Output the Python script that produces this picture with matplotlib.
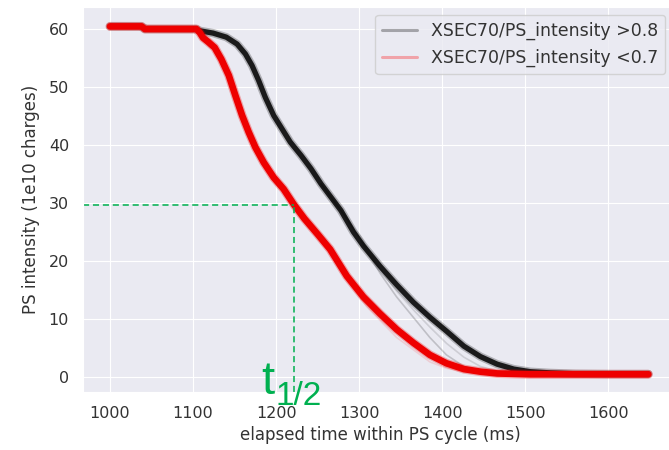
import numpy as np
import matplotlib
matplotlib.use('Agg')
import matplotlib.pyplot as plt
import seaborn as sns
from matplotlib.lines import Line2D

sns.set_style('darkgrid')
plt.rcParams['font.family'] = ['DejaVu Sans']

#### DATOS ####
# Curva principal, grupo XSEC70/PS_intensity > 0.8 (tiempo en ms, intensidad en 1e10 cargas)
t_alto = [1000, 1038, 1042, 1104, 1108, 1124, 1140, 1153, 1163, 1171, 1179, 1187, 1197,
          1207, 1217, 1230, 1242, 1254, 1266, 1278, 1293, 1305, 1325, 1345, 1365, 1385,
          1405, 1426, 1446, 1466, 1486, 1506, 1530, 1560, 1600, 1648]
i_alto = [60.45, 60.45, 60.0, 60.0, 59.7, 59.3, 58.6, 57.4, 55.7, 53.7, 51.1, 48.2, 45.1,
          42.8, 40.5, 38.2, 35.9, 33.3, 31.0, 28.7, 25.0, 22.6, 19.1, 15.9, 12.9, 10.3,
          7.9, 5.3, 3.5, 2.2, 1.35, 0.9, 0.7, 0.55, 0.5, 0.5]

# Curva principal, grupo XSEC70/PS_intensity < 0.7
t_bajo = [1000, 1038, 1042, 1104, 1108, 1112, 1118, 1126, 1134, 1143, 1151, 1159, 1167,
          1175, 1185, 1197, 1209, 1221, 1234, 1250, 1265, 1285, 1305, 1325, 1345, 1365,
          1385, 1405, 1426, 1446, 1466, 1506, 1550, 1600, 1648]
i_bajo = [60.45, 60.45, 60.0, 60.0, 59.4, 58.5, 57.8, 56.8, 54.8, 52.0, 48.5, 45.1, 42.2,
          39.6, 37.0, 34.4, 32.4, 29.8, 27.3, 24.6, 22.0, 17.4, 13.8, 10.9, 8.2, 5.9,
          3.8, 2.35, 1.35, 0.9, 0.6, 0.45, 0.45, 0.45, 0.45]

# Trazas sueltas del grupo > 0.8
t_gris1 = [1254, 1278, 1301, 1325, 1345, 1365, 1385, 1405, 1426, 1446, 1466, 1500]
i_gris1 = [33.3, 28.7, 23.8, 17.9, 13.8, 10.3, 6.8, 3.8, 1.8, 0.9, 0.6, 0.5]
t_gris2 = [1254, 1278, 1301, 1325, 1345, 1365, 1385, 1405, 1426, 1446, 1466, 1486, 1520]
i_gris2 = [33.3, 28.7, 24.3, 18.6, 14.8, 11.6, 8.6, 5.8, 3.4, 1.8, 1.0, 0.7, 0.55]

# Traza suelta del grupo < 0.7
t_rosa = [1265, 1285, 1309, 1345, 1365, 1385, 1405, 1426, 1446, 1480]
i_rosa = [22.0, 17.0, 12.1, 6.8, 4.7, 2.6, 1.5, 0.9, 0.6, 0.45]

# Punto de mitad de intensidad
t_mitad = 1221
i_mitad = 29.6

etiquetas = ['XSEC70/PS_intensity >0.8', 'XSEC70/PS_intensity <0.7']

#### GRAFICO ####
fig = plt.figure(figsize=(6.69, 4.5), dpi=100)
ax = fig.add_axes([83 / 669, 58 / 450, 594 / 669, 385 / 450])

xlim = (967.5, 1682.5)
ylim = (-2.6, 63.8)

estilo = dict(solid_capstyle='round', solid_joinstyle='round')

# trazas sueltas (finas y transparentes)
ax.plot(t_gris1, i_gris1, color='k', alpha=0.18, lw=1.2, **estilo)
ax.plot(t_gris2, i_gris2, color='k', alpha=0.12, lw=1.2, **estilo)
ax.plot(t_rosa, i_rosa, color='r', alpha=0.12, lw=1.2, **estilo)

# banda negra: halo suave + nucleo
ax.plot(t_alto, i_alto, color='k', alpha=0.25, lw=6.0, **estilo)
ax.plot(t_alto, i_alto, color='k', alpha=0.85, lw=3.8, **estilo)

# banda roja
ax.plot(t_bajo, i_bajo, color='#ee0000', alpha=0.3, lw=6.5, **estilo)
ax.plot(t_bajo, i_bajo, color='#ee0000', lw=4.8, **estilo)

# lineas guia de t 1/2
verde = '#00b050'
ax.plot([xlim[0], t_mitad], [i_mitad, i_mitad], color=verde, lw=1.1, ls=(0, (4, 2.5)))
ax.plot([t_mitad, t_mitad], [ylim[0], i_mitad], color=verde, lw=1.1, ls=(0, (4, 2.5)))
ax.text(1182, -2.9, 't', color=verde, fontsize=34, family='Liberation Sans',
        va='baseline', ha='left', clip_on=False)
ax.text(1199, -4.8, '1/2', color=verde, fontsize=24, family='Liberation Sans',
        va='baseline', ha='left', clip_on=False)

ax.set_xlim(xlim)
ax.set_ylim(ylim)
ax.set_xticks([1000, 1100, 1200, 1300, 1400, 1500, 1600])
ax.set_yticks([0, 10, 20, 30, 40, 50, 60])
ax.tick_params(labelsize=11.5, pad=10, length=0, labelcolor='.2')
ax.set_xlabel('elapsed time within PS cycle (ms)', fontsize=12, color='.2', labelpad=4)
ax.set_ylabel('PS intensity (1e10 charges)', fontsize=12, color='.2', labelpad=6)

proxies = [Line2D([], [], color='k', alpha=0.3, lw=2.2),
           Line2D([], [], color='r', alpha=0.3, lw=2.2)]
ley = fig.legend(proxies, etiquetas, loc='upper right', bbox_to_anchor=(665 / 669, 1 - 15 / 450),
                 borderaxespad=0, fontsize=12.5, frameon=True, facecolor='#eaeaf2',
                 edgecolor='0.8', framealpha=0.8)
for txt in ley.get_texts():
    txt.set_color('.2')

plt.savefig('out.png', dpi=100)
